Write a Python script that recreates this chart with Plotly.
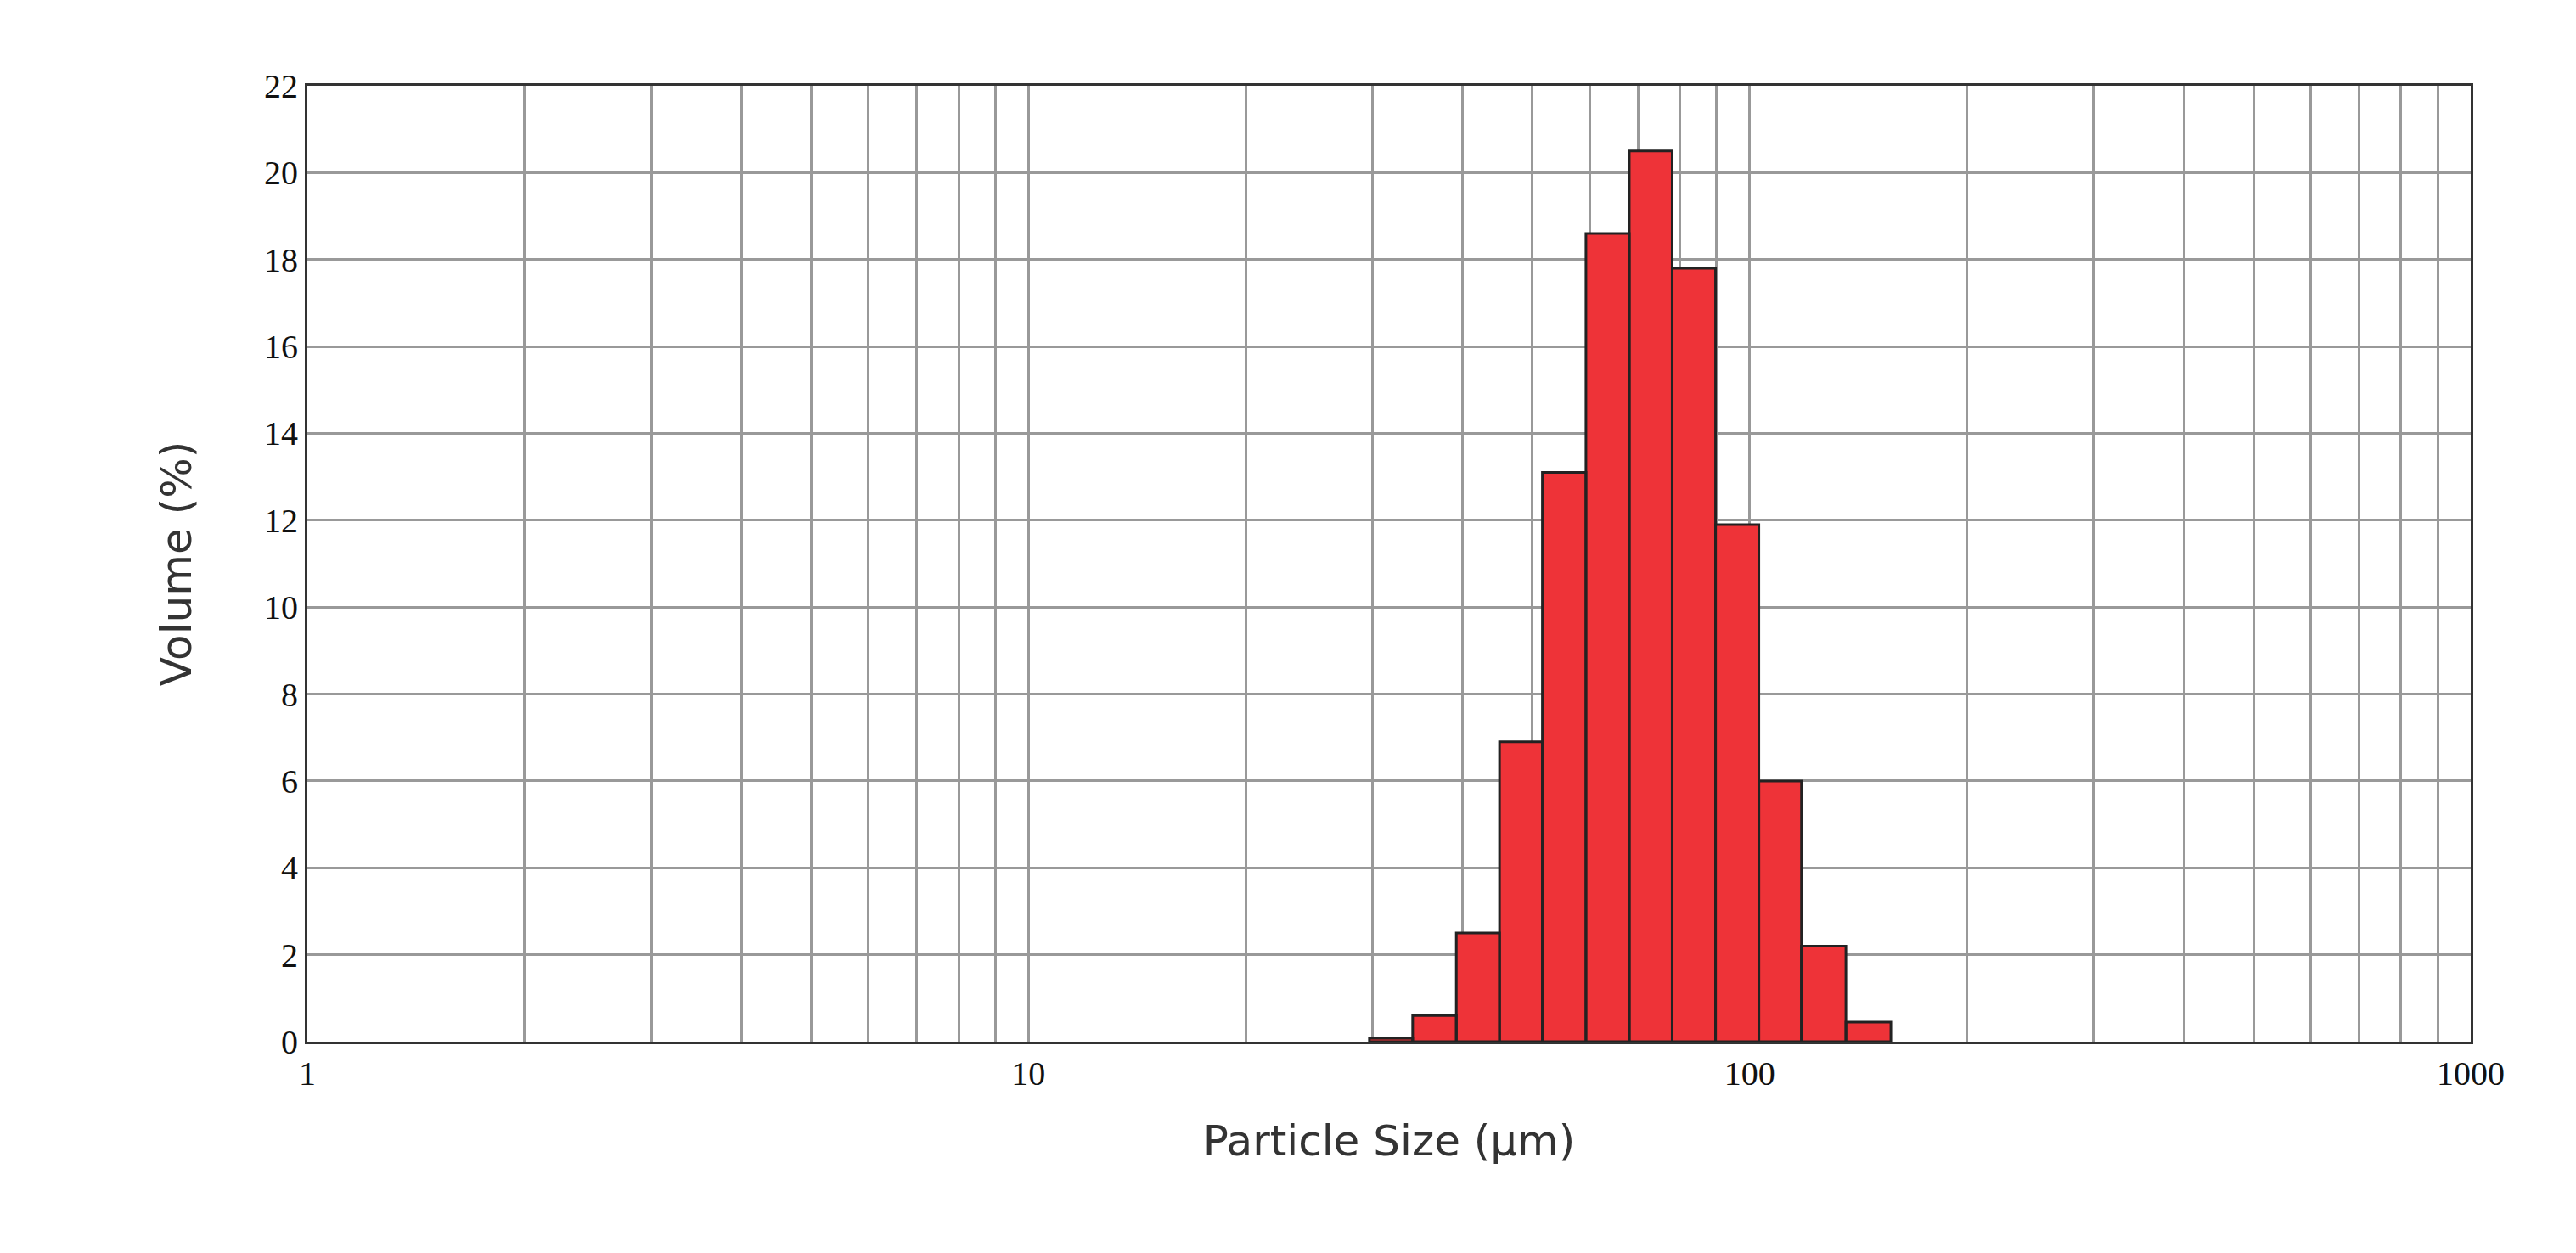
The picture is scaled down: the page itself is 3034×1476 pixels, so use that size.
import plotly.graph_objects as go

# bin edges (um) and volume percentages
bin_edges = [29.7, 34.1, 39.2, 45.0, 51.6, 59.3, 68.1, 78.1, 89.7, 103.0, 118.0, 136.0, 157.0]
volume = [0.08, 0.6, 2.5, 6.9, 13.1, 18.6, 20.5, 17.8, 11.9, 6.0, 2.2, 0.45]

x_ticks = [1, 2, 3, 4, 5, 6, 7, 8, 9, 10, 20, 30, 40, 50, 60, 70, 80, 90,
           100, 200, 300, 400, 500, 600, 700, 800, 900, 1000]
x_labels = ["1" if v == 1 else "10" if v == 10 else "100" if v == 100 else "1000" if v == 1000 else ""
            for v in x_ticks]
y_ticks = list(range(0, 23, 2))

xs, ys = [], []
for lo, hi, v in zip(bin_edges[:-1], bin_edges[1:], volume):
    xs += [lo, lo, hi, hi, lo, None]
    ys += [0, v, v, 0, 0, None]

fig = go.Figure()
fig.add_trace(go.Scatter(
    x=xs, y=ys, mode="lines", fill="toself",
    fillcolor="#ee3338", line=dict(color="#222222", width=3),
    hoverinfo="skip", showlegend=False,
))

tick_font = dict(family="Liberation Serif", size=40, color="#111111")
fig.update_layout(
    width=3034, height=1476,
    paper_bgcolor="white", plot_bgcolor="white",
    margin=dict(l=354, r=132, t=93, b=257),
    xaxis=dict(
        type="log", range=[0, 3], tickvals=x_ticks, ticktext=x_labels,
        showgrid=True, gridcolor="#999999", gridwidth=3,
        showline=True, linecolor="#333333", linewidth=3, mirror=True,
        ticks="", tickfont=tick_font,
        title=dict(text="Particle Size (µm)", font=dict(family="DejaVu Sans", size=50, color="#333333"), standoff=40),
    ),
    yaxis=dict(
        range=[0, 22], tickvals=y_ticks,
        showgrid=True, gridcolor="#999999", gridwidth=3,
        showline=True, linecolor="#333333", linewidth=3, mirror=True,
        ticks="", tickfont=tick_font, zeroline=False,
        title=dict(text="Volume (%)", font=dict(family="DejaVu Sans", size=50, color="#333333"), standoff=70),
    ),
)

fig.write_html("out.html")
